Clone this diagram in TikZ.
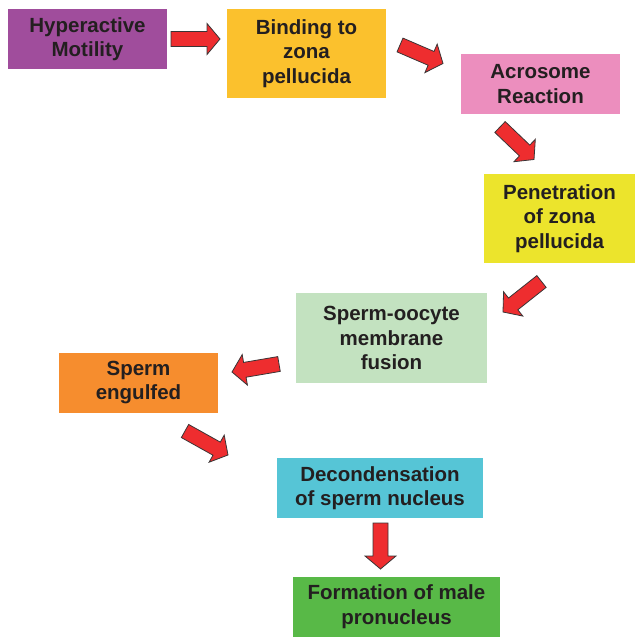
\documentclass[tikz,border=0pt]{standalone}
\usepackage{fontspec}
\setmainfont{Liberation Sans}
\usetikzlibrary{calc}

\definecolor{txt}{HTML}{231F20}
\definecolor{cHyper}{HTML}{A04D9C}
\definecolor{cBind}{HTML}{FBC12D}
\definecolor{cAcro}{HTML}{EC8EBE}
\definecolor{cPen}{HTML}{ECE42C}
\definecolor{cFus}{HTML}{C3E2C0}
\definecolor{cEng}{HTML}{F68D2E}
\definecolor{cDec}{HTML}{56C5D6}
\definecolor{cForm}{HTML}{58B947}
\definecolor{arrowred}{HTML}{EE2D2F}
\definecolor{arrowedge}{HTML}{3A3536}

\tikzset{
  stage/.style={rectangle, inner sep=0pt, align=center, text=txt,
    font=\bfseries\fontsize{20.5}{24.5}\selectfont},
  arrowbody/.style={fill=arrowred, draw=arrowedge, line width=0.8pt, line join=miter},
}

% block arrow from tail coordinate #1 to tip coordinate #2
\newcommand\blockarrow[2]{%
  \begin{scope}
    \coordinate (hb) at ($(#2)!13pt!(#1)$);
    \draw[arrowbody]
      ($(#1)!7.5pt!90:(#2)$) -- ($(hb)!7.5pt!-90:(#1)$) -- ($(hb)!15.5pt!-90:(#1)$)
      -- (#2) -- ($(hb)!15.5pt!90:(#1)$) -- ($(hb)!7.5pt!90:(#1)$)
      -- ($(#1)!7.5pt!-90:(#2)$) -- cycle;
  \end{scope}}

\begin{document}
\begin{tikzpicture}[x=1pt, y=-1pt]
  \useasboundingbox (0,0) rectangle (635,637);

  % stages
  \node[stage, fill=cHyper, minimum width=159pt, minimum height=60pt] (hyper) at (87.5,39) {Hyperactive\\Motility};
  \node[stage, fill=cBind, minimum width=159pt, minimum height=89pt] (bind) at (306.5,53.5) {Binding to\\zona\\pellucida};
  \node[stage, fill=cAcro, minimum width=159pt, minimum height=60pt] (acro) at (540.5,84) {Acrosome\\Reaction};
  \node[stage, fill=cPen, minimum width=151pt, minimum height=89pt] (pen) at (559.5,218.5) {Penetration\\of zona\\pellucida};
  \node[stage, fill=cFus, minimum width=191pt, minimum height=90pt] (fus) at (391.5,338) {Sperm-oocyte\\membrane\\fusion};
  \node[stage, fill=cEng, minimum width=159pt, minimum height=60pt] (eng) at (138.5,382.5) {Sperm\\engulfed};
  \node[stage, fill=cDec, minimum width=206pt, minimum height=60pt] (dec) at (380,488) {Decondensation\\of sperm nucleus};
  \node[stage, fill=cForm, minimum width=207pt, minimum height=60pt] (form) at (396.5,606.5) {Formation of male\\pronucleus};

  % arrow ends
  \coordinate (a1s) at (171,39);    \coordinate (a1e) at (220,39);
  \coordinate (a2s) at (400,45);    \coordinate (a2e) at (443,63.5);
  \coordinate (a3s) at (500,127);   \coordinate (a3e) at (534,159.5);
  \coordinate (a4s) at (541.5,281.5); \coordinate (a4e) at (503,312);
  \coordinate (a5s) at (279,364);   \coordinate (a5e) at (232,372);
  \coordinate (a6s) at (185,431);   \coordinate (a6e) at (228,455);
  \coordinate (a7s) at (380.5,523); \coordinate (a7e) at (380.5,569);

  % flow arrows
  \blockarrow{a1s}{a1e}
  \blockarrow{a2s}{a2e}
  \blockarrow{a3s}{a3e}
  \blockarrow{a4s}{a4e}
  \blockarrow{a5s}{a5e}
  \blockarrow{a6s}{a6e}
  \blockarrow{a7s}{a7e}
\end{tikzpicture}
\end{document}
